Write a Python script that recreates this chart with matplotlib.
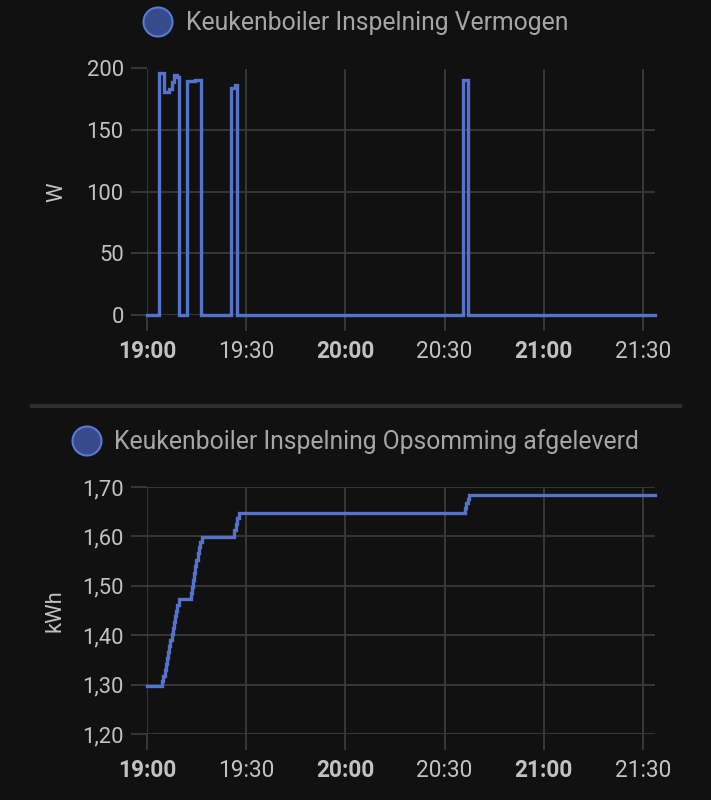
import matplotlib
matplotlib.use("Agg")
import matplotlib.pyplot as plt
from matplotlib.patches import Circle
from matplotlib.lines import Line2D

# ---- data (minutes after 19:00) ----
power_t = [0.0, 3.65, 4.85, 5.15, 6.67, 7.38, 8.08, 8.9, 9.6, 12.1, 14.5, 16.26,
           25.34, 26.55, 27.25, 95.67, 97.2, 153.7]
power_w = [0, 196, 196, 181, 183, 189, 195, 193, 0, 190, 191, 0,
           184, 187, 0, 191, 0, 0]

energy_t = [0.0, 4.54, 4.9, 5.25, 5.6, 5.95, 6.3, 6.65, 7.0, 7.35, 7.7, 8.05, 8.4,
            8.75, 9.1, 9.69, 13.1, 13.45, 13.8, 14.15, 14.5, 14.85, 15.2, 15.55,
            15.9, 16.47, 26.3, 26.8, 27.3, 27.85, 60.0, 96.2, 96.6, 97.0, 97.5, 153.7]
energy_kwh = [1.297, 1.307, 1.318, 1.330, 1.342, 1.354, 1.366, 1.378, 1.390, 1.402,
              1.414, 1.426, 1.438, 1.450, 1.462, 1.474, 1.486, 1.498, 1.512, 1.526,
              1.540, 1.553, 1.566, 1.578, 1.588, 1.598, 1.612, 1.626, 1.638, 1.647,
              1.648, 1.658, 1.668, 1.676, 1.684, 1.684]

x_ticks = [0, 30, 60, 90, 120, 150]
x_labels = ["19:00", "19:30", "20:00", "20:30", "21:00", "21:30"]
power_ticks = [0, 50, 100, 150, 200]
energy_ticks = [1.20, 1.30, 1.40, 1.50, 1.60, 1.70]

title_top = "Keukenboiler Inspelning Vermogen"
title_bottom = "Keukenboiler Inspelning Opsomming afgeleverd"

# ---- style ----
BG = "#111111"
GRID = "#3a3a3a"
TICKC = "#c2c2c2"
LEGC = "#a6a6a6"
LINE = "#5572cc"
plt.rcParams["font.family"] = ["Roboto", "DejaVu Sans"]

W, H = 711, 800
fig = plt.figure(figsize=(W / 100, H / 100), dpi=100, facecolor=BG)


def fx(px):
    return px / W


def fy(py):
    return 1 - py / H


def style_axes(ax, xmax):
    ax.set_facecolor(BG)
    for s in ax.spines.values():
        s.set_visible(False)
    ax.set_xlim(0, xmax)
    ax.set_xticks(x_ticks)
    ax.set_xticklabels(x_labels)
    for lbl, txt in zip(ax.get_xticklabels(), x_labels):
        lbl.set_fontsize(16.3)
        if txt.endswith(":00"):
            lbl.set_fontweight("bold")
    ax.grid(True, color=GRID, linewidth=1.3)
    ax.tick_params(axis="both", colors=GRID, length=11.5, width=1.3,
                   labelcolor=TICKC)
    ax.tick_params(axis="y", pad=5.5, labelsize=15.8)
    ax.tick_params(axis="x", pad=6.8)
    ax.set_axisbelow(True)


xmax = 153.7

# top chart
ax1 = fig.add_axes([fx(147.3), fy(315), fx(655 - 147.3), (315 - 68.5) / H])
style_axes(ax1, xmax)
ax1.set_ylim(0, 200)
ax1.set_yticks(power_ticks)
ax1.set_yticklabels([str(v) for v in power_ticks])
ax1.plot(power_t, power_w, drawstyle="steps-post", color=LINE, lw=2.4,
         clip_on=False, solid_joinstyle="miter")
ax1.set_ylabel("W", color=TICKC, fontsize=15.8, labelpad=14)

# bottom chart
ax2 = fig.add_axes([fx(147.3), fy(734), fx(655 - 147.3), (734 - 487) / H])
style_axes(ax2, xmax)
ax2.set_ylim(1.2, 1.7)
ax2.set_yticks(energy_ticks)
ax2.set_yticklabels([f"{v:.2f}".replace(".", ",") for v in energy_ticks])
ax2.plot(energy_t, energy_kwh, drawstyle="steps-post", color=LINE, lw=2.4,
         clip_on=False, solid_joinstyle="miter")
ax2.set_ylabel("kWh", color=TICKC, fontsize=15.8, labelpad=12)

# overlay for legends and separator
ov = fig.add_axes([0, 0, 1, 1], facecolor="none")
ov.set_xlim(0, W)
ov.set_ylim(H, 0)
ov.axis("off")
ov.add_patch(Circle((158, 22), 14.5, facecolor="#374a8c", edgecolor="#5a79d4", lw=1.5))
ov.text(186, 23, title_top, color=LEGC, fontsize=17.8, va="center", ha="left")
ov.add_patch(Circle((87, 441), 14.5, facecolor="#374a8c", edgecolor="#5a79d4", lw=1.5))
ov.text(114, 442, title_bottom, color=LEGC, fontsize=17.8, va="center", ha="left")
ov.add_line(Line2D([32, 680], [405.5, 405.5], color="#2e2e2e", lw=3))

fig.savefig("out.png", dpi=100, facecolor=BG)
